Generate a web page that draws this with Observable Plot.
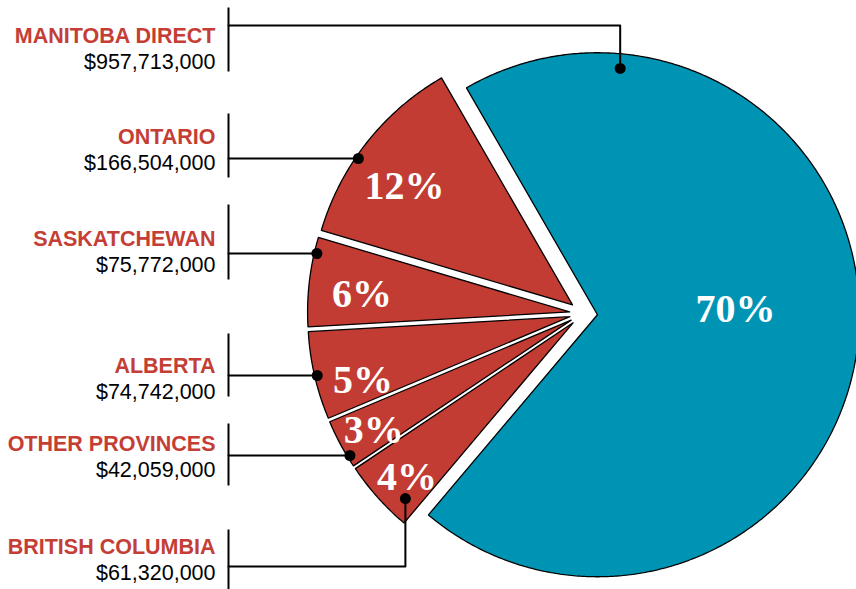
<!DOCTYPE html>
<html><head><meta charset="utf-8">
<script src="https://cdn.jsdelivr.net/npm/d3@7"></script>
<script src="https://cdn.jsdelivr.net/npm/@observablehq/plot@0.6"></script>
<style>body{margin:0;background:#fff} svg{display:block}</style>
</head><body><div id="chart"></div>
<script>
// ---- data (pie order, clockwise from the top-left) ----
const provinces = ["MANITOBA DIRECT", "BRITISH COLUMBIA", "OTHER PROVINCES", "ALBERTA", "SASKATCHEWAN", "ONTARIO"];
const amounts = [957713000, 61320000, 42059000, 74742000, 75772000, 166504000];
const sliceColors = ["#0094b4", "#c23c33", "#c23c33", "#c23c33", "#c23c33", "#c23c33"];

// ---- layout (pixels) ----
const W = 856, H = 589;
const CX = 583, CY = 313, R = 262, EXPLODE = 14, START_DEG = -30;
const LABEL_X = 215, BAR_X = 228, LINE_GAP = 26;
const RED = "#c43e35";
// label block layout: name baseline, bar top/bottom, leader y
const labelLayout = {
  "MANITOBA DIRECT":  {nameY: 42,  top: 7,   bottom: 71,  leaderY: 25,  anchor: [0.141, 0.944]},
  "ONTARIO":          {nameY: 143, top: 113, bottom: 177, leaderY: 158},
  "SASKATCHEWAN":     {nameY: 245, top: 204, bottom: 279, leaderY: 253},
  "ALBERTA":          {nameY: 372, top: 333, bottom: 396, leaderY: 375},
  "OTHER PROVINCES":  {nameY: 450, top: 423, bottom: 485, leaderY: 455},
  "BRITISH COLUMBIA": {nameY: 553, top: 529, bottom: 592, leaderY: 566, anchor: [0.217, 0.927]}
};
// percent label placement inside slice: [fraction of slice angle, fraction of radius]
const pctLayout = {
  "MANITOBA DIRECT": [0.470, 0.527],
  "BRITISH COLUMBIA": [0.434, 0.865],
  "OTHER PROVINCES": [0.42, 0.863],
  "ALBERTA": [0.29, 0.826],
  "SASKATCHEWAN": [0.415, 0.795],
  "ONTARIO": [0.429, 0.784]
};

const rows = provinces.map((name, i) => ({name, amount: amounts[i], color: sliceColors[i]}));
const total = d3.sum(amounts);

// whole percentages summing to 100 (largest remainder)
const raw = amounts.map(v => v / total * 100);
const pctInt = raw.map(Math.floor);
let left = 100 - d3.sum(pctInt);
d3.range(raw.length).sort((a, b) => (raw[b] - pctInt[b]) - (raw[a] - pctInt[a]))
  .forEach(i => { if (left > 0) { pctInt[i] += 1; left--; } });

const s0 = START_DEG * Math.PI / 180;
const arcs = d3.pie().sort(null).value(d => d.amount).startAngle(s0).endAngle(s0 + 2 * Math.PI)(rows);

const geo = arcs.map((a, i) => {
  const mid = (a.startAngle + a.endAngle) / 2;
  const cx = CX + EXPLODE * Math.sin(mid), cy = CY - EXPLODE * Math.cos(mid);
  const at = (ang, r) => [cx + r * Math.sin(ang), cy - r * Math.cos(ang)];
  return {name: a.data.name, color: a.data.color, pct: pctInt[i], a0: a.startAngle, a1: a.endAngle, cx, cy, at};
});

// slice polygons
const polyPts = [];
for (const g of geo) {
  const n = Math.ceil((g.a1 - g.a0) * 180 / Math.PI * 2);
  polyPts.push({name: g.name, color: g.color, x: g.cx, y: g.cy});
  for (let k = 0; k <= n; k++) {
    const [x, y] = g.at(g.a0 + (g.a1 - g.a0) * k / n, R);
    polyPts.push({name: g.name, color: g.color, x, y});
  }
  polyPts.push({name: g.name, color: g.color, x: g.cx, y: g.cy});
}

// percent labels
const pcts = geo.map(g => {
  const [f, rf] = pctLayout[g.name];
  const [x, y] = g.at(g.a0 + (g.a1 - g.a0) * f, R * rf);
  return {x, y, text: g.pct + "%"};
});

// leader anchors and lines
const dots = [], leaderPts = [];
for (const g of geo) {
  const L = labelLayout[g.name];
  let dx, dy;
  if (L.anchor) {
    [dx, dy] = g.at(g.a0 + (g.a1 - g.a0) * L.anchor[0], R * L.anchor[1]);
  } else {
    const rr = R * 0.99;
    dy = L.leaderY;
    dx = g.cx - Math.sqrt(rr * rr - (dy - g.cy) ** 2);
  }
  dots.push({name: g.name, x: dx, y: dy});
  leaderPts.push({name: g.name, x: BAR_X, y: L.leaderY});
  leaderPts.push({name: g.name, x: dx, y: L.leaderY});
  leaderPts.push({name: g.name, x: dx, y: dy});
}

const labels = rows.map(r => ({
  name: r.name,
  value: "$" + d3.format(",")(r.amount),
  ...labelLayout[r.name]
}));

const chart = Plot.plot({
  width: W, height: H,
  margin: 0,
  x: {domain: [0, W], range: [0, W], axis: null},
  y: {domain: [0, H], range: [0, H], axis: null},
  color: {type: "identity"},
  style: {background: "#fff", overflow: "hidden"},
  marks: [
    Plot.line(polyPts, {x: "x", y: "y", z: "name", fill: "color", stroke: "#000", strokeWidth: 1.3, curve: "linear", strokeLinejoin: "miter"}),
    Plot.text(pcts, {x: "x", y: "y", text: "text", fill: "#fff", fontSize: 40, fontWeight: "bold", fontFamily: "'Liberation Serif', 'Times New Roman', serif", lineAnchor: "middle"}),
    Plot.link(labels, {x1: () => BAR_X, x2: () => BAR_X, y1: "top", y2: "bottom", stroke: "#000", strokeWidth: 2}),
    Plot.line(leaderPts, {x: "x", y: "y", z: "name", stroke: "#000", strokeWidth: 2}),
    Plot.dot(dots, {x: "x", y: "y", r: 5.5, fill: "#000"}),
    Plot.text(labels, {x: () => LABEL_X, y: "nameY", text: "name", textAnchor: "end", lineAnchor: "bottom", fill: RED, fontSize: 21.5, fontWeight: "bold", fontFamily: "'Liberation Sans', Arial, sans-serif"}),
    Plot.text(labels, {x: () => LABEL_X, y: d => d.nameY + LINE_GAP, text: "value", textAnchor: "end", lineAnchor: "bottom", fill: "#000", fontSize: 21.5, fontFamily: "'Liberation Sans', Arial, sans-serif"})
  ]
});
document.getElementById("chart").append(chart);
</script>
</body></html>
